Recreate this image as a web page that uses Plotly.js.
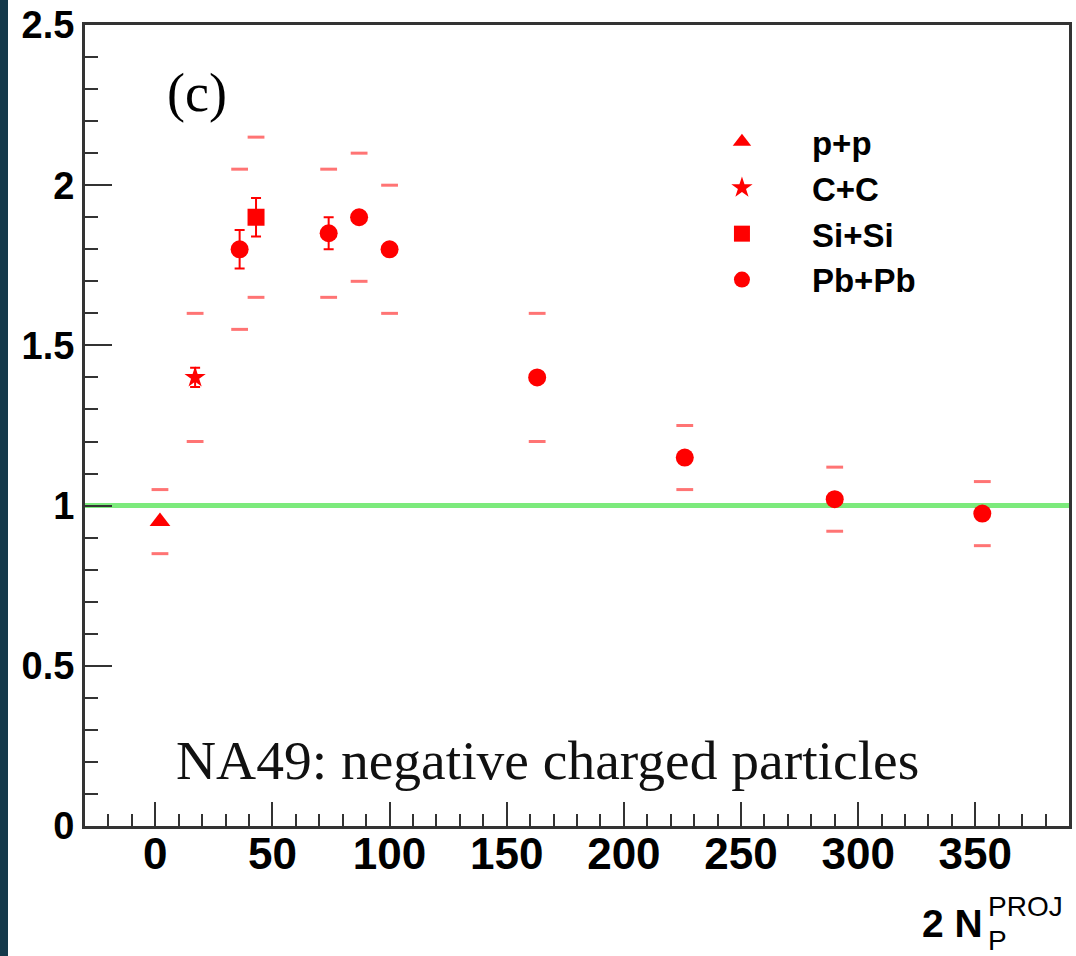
<!DOCTYPE html>
<html>
<head>
<meta charset="utf-8">
<script src="https://cdn.plot.ly/plotly-3.0.1.min.js"></script>
<style>
  html, body { margin: 0; padding: 0; background: #ffffff; }
  #chart { width: 1076px; height: 956px; }
  #edge { position: absolute; left: 0; top: 0; width: 8px; height: 956px; background: #14394a; }
</style>
</head>
<body>
<div id="chart"></div>
<div id="edge"></div>
<script>
// ---- data ----
const ppX = [2];
const ppY = [0.95];
const ppStat = [0];
const ppSys = [0.10];

const ccX = [17];
const ccY = [1.40];
const ccStat = [0.03];
const ccSys = [0.20];

const siX = [43];
const siY = [1.90];
const siStat = [0.06];
const siSys = [0.25];

const pbX = [36, 74, 87, 100, 163, 226, 290, 353];
const pbY = [1.80, 1.85, 1.90, 1.80, 1.40, 1.15, 1.02, 0.975];
const pbStat = [0.06, 0.05, 0, 0, 0, 0, 0, 0];
const pbSys = [0.25, 0.20, 0.20, 0.20, 0.20, 0.10, 0.10, 0.10];

const xTicks = [0, 50, 100, 150, 200, 250, 300, 350];
const yTicks = [0, 0.5, 1, 1.5, 2, 2.5];
const yTickText = ['0', '0.5', '1', '1.5', '2', '2.5'];

// ---- traces ----
const RED = '#ff0000';
const SYSCOL = 'rgba(255,70,70,0.75)';

function mainTrace(name, x, y, stat, symbol, size) {
  return {
    type: 'scatter', mode: 'markers', name: name, x: x, y: y,
    legendgroup: name,
    marker: { symbol: symbol, size: size, color: RED, line: { width: 0 } },
    error_y: { type: 'data', array: stat, visible: true, color: RED, thickness: 2, width: 5 },
    hoverinfo: 'x+y'
  };
}
function sysTrace(x, y, sys) {
  const xs = x.concat(x);
  const ys = y.map((v, i) => v + sys[i]).concat(y.map((v, i) => v - sys[i]));
  return {
    type: 'scatter', mode: 'markers', x: xs, y: ys, showlegend: false,
    marker: { symbol: 'line-ew', size: 12, line: { width: 3, color: SYSCOL }, color: SYSCOL },
    hoverinfo: 'skip'
  };
}

const traces = [
  sysTrace(ppX, ppY, ppSys),
  sysTrace(ccX, ccY, ccSys),
  sysTrace(siX, siY, siSys),
  sysTrace(pbX, pbY, pbSys),
  mainTrace('p+p', ppX, ppY, ppStat, 'triangle-up', 18),
  mainTrace('C+C', ccX, ccY, ccStat, 'star', 16),
  mainTrace('Si+Si', siX, siY, siStat, 'square', 17),
  mainTrace('Pb+Pb', pbX, pbY, pbStat, 'circle', 18)
];

const axisCol = '#333333';
const layout = {
  width: 1076, height: 956,
  margin: { l: 85, r: 7, t: 25, b: 130 },
  paper_bgcolor: '#ffffff', plot_bgcolor: '#ffffff',
  showlegend: true,
  legend: {
    x: 0.5965, y: 0.889, xanchor: 'left', yanchor: 'top',
    bgcolor: 'rgba(0,0,0,0)', borderwidth: 0,
    font: { family: 'Liberation Sans, Arial, sans-serif', size: 33, color: '#000', weight: 'bold' },
    itemwidth: 130, tracegroupgap: 15,
    traceorder: 'normal'
  },
  xaxis: {
    range: [-30, 390], showgrid: false, zeroline: false,
    showline: true, linecolor: axisCol, linewidth: 3, mirror: true,
    ticks: 'inside', ticklen: 24, tickwidth: 2, tickcolor: axisCol,
    tickmode: 'array', tickvals: xTicks, ticklabelstandoff: -13,
    tickfont: { family: 'Liberation Sans, Arial, sans-serif', size: 44, color: '#000', weight: 'bold' },
    minor: { dtick: 10, ticks: 'inside', ticklen: 12, tickwidth: 2, tickcolor: axisCol, showgrid: false }
  },
  yaxis: {
    range: [0, 2.5], showgrid: false, zeroline: false,
    showline: true, linecolor: axisCol, linewidth: 3, mirror: true,
    ticks: 'inside', ticklen: 27, tickwidth: 2, tickcolor: axisCol,
    tickmode: 'array', tickvals: yTicks, ticktext: yTickText,
    tickfont: { family: 'Liberation Sans, Arial, sans-serif', size: 38, color: '#000', weight: 'bold' },
    minor: { dtick: 0.1, ticks: 'inside', ticklen: 13, tickwidth: 2, tickcolor: axisCol, showgrid: false }
  },
  shapes: [
    { type: 'line', xref: 'paper', x0: 0, x1: 1, yref: 'y', y0: 1, y1: 1,
      line: { color: 'rgba(110,232,110,0.9)', width: 5 }, layer: 'below' }
  ],
  annotations: [
    { text: '(c)', xref: 'paper', yref: 'paper', x: 0.114, y: 0.915, showarrow: false,
      xanchor: 'center', yanchor: 'middle',
      font: { family: 'Liberation Serif, Times New Roman, serif', size: 54, color: '#000' } },
    { text: 'NA49: negative charged particles', xref: 'paper', yref: 'paper', x: 0.47, y: 0.082,
      showarrow: false, xanchor: 'center', yanchor: 'middle',
      font: { family: 'Liberation Serif, Times New Roman, serif', size: 55.5, color: '#111' } },
    { text: '<b>2 N</b>', xref: 'paper', yref: 'paper', x: 0.915, y: -0.122, showarrow: false,
      xanchor: 'right', yanchor: 'middle',
      font: { family: 'Liberation Sans, Arial, sans-serif', size: 39, color: '#000' } },
    { text: 'PROJ', xref: 'paper', yref: 'paper', x: 0.916, y: -0.101, showarrow: false,
      xanchor: 'left', yanchor: 'middle',
      font: { family: 'Liberation Sans, Arial, sans-serif', size: 28, color: '#000' } },
    { text: 'P', xref: 'paper', yref: 'paper', x: 0.916, y: -0.143, showarrow: false,
      xanchor: 'left', yanchor: 'middle',
      font: { family: 'Liberation Sans, Arial, sans-serif', size: 28, color: '#000' } }
  ]
};

Plotly.newPlot('chart', traces, layout, { displayModeBar: false, staticPlot: true });
</script>
</body>
</html>
